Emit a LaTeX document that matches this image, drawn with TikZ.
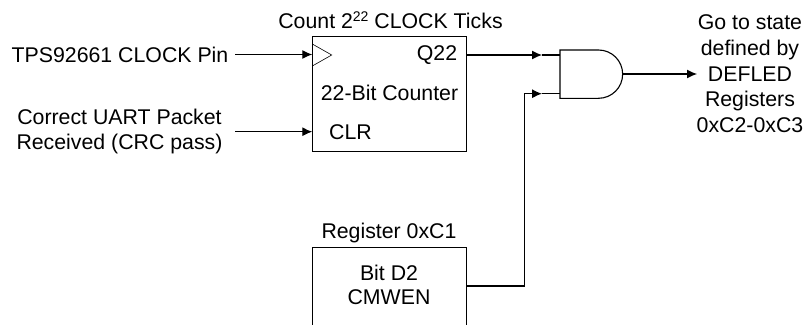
\documentclass[tikz,border=0pt]{standalone}
\usepackage{fontspec}
\setmainfont{Liberation Sans}
\usetikzlibrary{arrows.meta}
\tikzset{
  lbl/.style={inner sep=0pt,font=\fontsize{21.3}{25.4}\selectfont,align=center},
  blk/.style={draw,line width=0.8pt,inner sep=0pt},
  wire/.style={line width=1.1pt,-{Latex[length=10pt,width=9pt]}},
  plain/.style={line width=1.1pt}
}
\begin{document}
\begin{tikzpicture}[x=1pt,y=-1pt]
\useasboundingbox (0,0) rectangle (803,324);
\path[clip] (0,0) rectangle (803,324);
\node[blk,minimum width=154,minimum height=115.5,anchor=north west] (cnt) at (312.3,35.7) {};
\node[blk,minimum width=154,minimum height=90,anchor=north west] (reg) at (312.3,247.3) {};
\node[lbl] (t1) at (390.5,20.5) {Count 2\raisebox{7pt}{\fontsize{14}{16}\selectfont 22} CLOCK Ticks};
\node[lbl] (t2) at (389.5,93) {22-Bit Counter};
\node[lbl] (q) at (437,55) {Q22};
\node[lbl] (clr) at (350.5,132) {CLR};
\node[lbl] (t3) at (389,233) {Register 0xC1};
\node[lbl] (t4) at (389,272.5) {Bit D2};
\node[lbl] (t5) at (389,297) {CMWEN};
\node[lbl,anchor=west] (clk) at (11.5,54.5) {TPS92661 CLOCK Pin};
\node[lbl] (crc) at (119.5,131.7) {Correct UART Packet\\Received (CRC pass)};
\node[lbl,font=\fontsize{21.3}{25.8}\selectfont] (go) at (750,73.7) {Go to state\\defined by\\DEFLED\\Registers\\0xC2-0xC3};
\coordinate (clkstart) at (235,54.5);
\coordinate (clrstart) at (235,131.7);
\coordinate (clkin) at (312.3,54.5);
\coordinate (clrin) at (312.3,131.7);
\coordinate (qout) at (466.3,55);
\coordinate (qtip) at (542,55);
\coordinate (a1) at (560,55);
\coordinate (btip) at (542,93.7);
\coordinate (a2) at (560,93.7);
\coordinate (gout) at (622.7,74);
\coordinate (gtip) at (697,74);
\coordinate (regout) at (466.3,286);
\coordinate (bend1) at (524.3,286);
\coordinate (bend2) at (524.3,93.7);
\draw[line width=0.6pt] (312.3,44)--(331.7,55)--(312.3,66);
\draw[line width=1.1pt] (560,50) -- (598.5,50) arc[start angle=-90,end angle=90,radius=24.15] -- (560,98.3) -- cycle;
\draw[wire] (clkstart) -- (clkin);
\draw[wire] (clrstart) -- (clrin);
\draw[wire] (qout) -- (qtip);
\draw[plain] (qtip) -- (a1);
\draw[wire] (regout) -- (bend1) -- (bend2) -- (btip);
\draw[plain] (btip) -- (a2);
\draw[wire] (gout) -- (gtip);
\end{tikzpicture}
\end{document}
